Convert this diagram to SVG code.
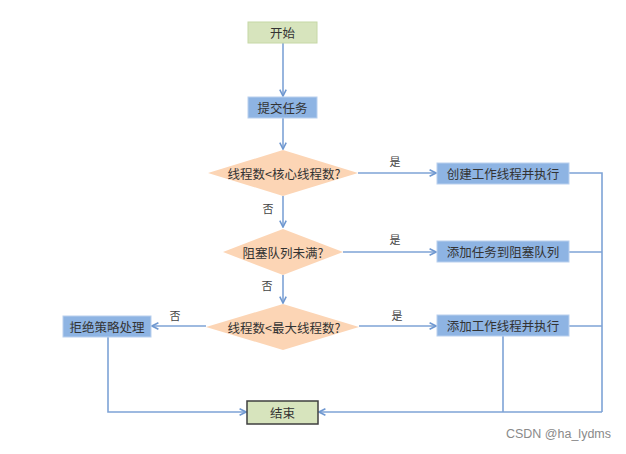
<svg xmlns="http://www.w3.org/2000/svg" width="626" height="454" viewBox="0 0 626 454">
<defs>
<marker id="arr" viewBox="0 0 10 10" refX="9" refY="5" markerWidth="8" markerHeight="8" markerUnits="userSpaceOnUse" orient="auto">
<path d="M1,1 L9,5 L1,9" fill="none" stroke="#6f98d0" stroke-width="2"/>
</marker>
<style>
.t{font-family:"Noto Sans CJK SC","Noto Sans",sans-serif;font-size:12.5px;fill:#333;text-anchor:middle;dominant-baseline:central}
.l{font-family:"Noto Sans CJK SC","Noto Sans",sans-serif;font-size:11px;fill:#444;text-anchor:middle;dominant-baseline:central}
.b{fill:#8eb4e3;stroke:#b9d0ee;stroke-width:1}
.g{fill:#d7e4bd;stroke:#c6d8a6;stroke-width:1}
.d{fill:#fcd5b5;stroke:none}
.c{fill:none;stroke:#7ea3d6;stroke-width:1.6}
</style>
</defs>
<rect width="626" height="454" fill="#fff"/>
<g id="connectors">
<path class="c" d="M283,43 V96" marker-end="url(#arr)"/>
<path class="c" d="M283,118 V149" marker-end="url(#arr)"/>
<path class="c" d="M283,196 V227" marker-end="url(#arr)"/>
<path class="c" d="M283,275 V303" marker-end="url(#arr)"/>
<path class="c" d="M358,173 H436" marker-end="url(#arr)"/>
<path class="c" d="M343,252 H436" marker-end="url(#arr)"/>
<path class="c" d="M359,326 H436" marker-end="url(#arr)"/>
<path class="c" d="M206,326 H152" marker-end="url(#arr)"/>
<path class="c" d="M569,173 H602 V412"/>
<path class="c" d="M569,252 H602"/>
<path class="c" d="M569,326 H602"/>
<path class="c" d="M503,336 V412"/>
<path class="c" d="M602,412 H319" marker-end="url(#arr)"/>
<path class="c" d="M108,337 V412 H246" marker-end="url(#arr)"/>
<text class="l" x="395" y="161">是</text>
<text class="l" x="395" y="239">是</text>
<text class="l" x="397" y="315">是</text>
<text class="l" x="268" y="208">否</text>
<text class="l" x="267" y="285">否</text>
<text class="l" x="175" y="315">否</text>
</g>
<g id="start"><rect class="g" x="248" y="22" width="69" height="21"/><text class="t" x="282.5" y="32.5">开始</text></g>
<g id="submit"><rect class="b" x="248" y="97" width="69" height="21"/><text class="t" x="282.5" y="107.5">提交任务</text></g>
<g id="d1"><polygon class="d" points="283,150 358,173 283,196 208,173"/><text class="t" x="284" y="173">线程数&lt;核心线程数?</text></g>
<g id="d2"><polygon class="d" points="283,229 343,252 283,275 223,252"/><text class="t" x="283" y="252">阻塞队列未满?</text></g>
<g id="d3"><polygon class="d" points="283,304 359,327 283,350 206,327"/><text class="t" x="284" y="327">线程数&lt;最大线程数?</text></g>
<g id="create"><rect class="b" x="437" y="163" width="132" height="21"/><text class="t" x="503" y="173.5">创建工作线程并执行</text></g>
<g id="queue"><rect class="b" x="437" y="241" width="132" height="21"/><text class="t" x="503" y="251.5">添加任务到阻塞队列</text></g>
<g id="add"><rect class="b" x="437" y="315" width="132" height="21"/><text class="t" x="503" y="325.5">添加工作线程并执行</text></g>
<g id="reject"><rect class="b" x="63" y="316" width="88" height="21"/><text class="t" x="107" y="326.5">拒绝策略处理</text></g>
<g id="end"><rect x="247" y="401" width="71" height="23" fill="#d7e4bd" stroke="#3f3f3f" stroke-width="1.5"/><text class="t" x="282.5" y="412.5">结束</text></g>
<text x="611" y="438" font-family="Liberation Sans,Arial,sans-serif" font-size="12.5" fill="#8a8a8a" text-anchor="end">CSDN @ha_lydms</text>
</svg>
